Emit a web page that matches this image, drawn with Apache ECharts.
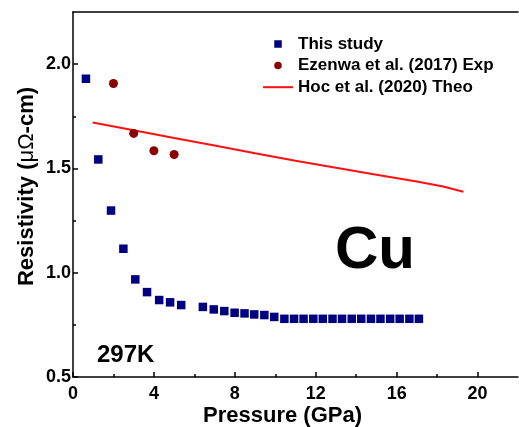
<!DOCTYPE html>
<html>
<head>
<meta charset="utf-8">
<script src="https://cdn.jsdelivr.net/npm/echarts@6/dist/echarts.min.js"></script>
<style>
  html, body { margin: 0; padding: 0; background: #fff; }
  #chart { width: 519px; height: 427px; }
</style>
</head>
<body>
<div id="chart"></div>
<script>
// Cu resistivity vs pressure at 297 K
const pressureThisStudy = [0.64, 1.25, 1.88, 2.49, 3.08, 3.66, 4.26, 4.80, 5.35,
  6.42, 6.96, 7.48, 7.99, 8.48, 8.96, 9.46, 9.95,
  10.45, 10.93, 11.40, 11.88, 12.35, 12.83, 13.30, 13.78, 14.25, 14.73, 15.20, 15.68, 16.15, 16.63, 17.10];
const resistThisStudy = [1.930, 1.543, 1.298, 1.115, 0.968, 0.907, 0.869, 0.858, 0.845,
  0.836, 0.824, 0.816, 0.808, 0.805, 0.800, 0.797, 0.788,
  0.779, 0.779, 0.779, 0.779, 0.779, 0.779, 0.779, 0.779, 0.779, 0.779, 0.779, 0.779, 0.779, 0.779, 0.779];

const pressureEzenwa = [2.0, 3.0, 4.0, 5.0];
const resistEzenwa = [1.907, 1.668, 1.585, 1.567];

const pressureHoc = [0.97, 3.0, 5.0, 7.0, 9.0, 11.0, 13.0, 15.0, 17.0, 18.3, 19.3];
const resistHoc = [1.720, 1.683, 1.646, 1.610, 1.573, 1.537, 1.503, 1.470, 1.437, 1.413, 1.388];

const seriesNames = ['This study', 'Ezenwa et al. (2017) Exp', 'Hoc et al. (2020) Theo'];

const xMajorTicks = [0, 4, 8, 12, 16, 20];
const xMinorTicks = [2, 6, 10, 14, 18];
const yMajorTicks = [0.5, 1.0, 1.5, 2.0];
const yMinorTicks = [0.75, 1.25, 1.75];

const zip = (xs, ys) => xs.map((x, i) => [x, ys[i]]);

const FONT = '"Liberation Sans", Arial, Helvetica, sans-serif';
const AX = { color: '#000', width: 1.5 };
const SQUARE = 'path://M0,0L1,0L1,1L0,1Z';

const chart = echarts.init(document.getElementById('chart'), null, { renderer: 'canvas' });

chart.setOption({
  animation: false,
  backgroundColor: '#fff',
  grid: { left: 73, top: 12, right: 1, bottom: 50, containLabel: false, outerBoundsMode: 'none' },
  legend: {
    orient: 'vertical',
    left: 257,
    top: 30.5,
    itemWidth: 30,
    itemHeight: 7.5,
    itemGap: 4.6,
    selectedMode: false,
    data: [
      { name: seriesNames[0], icon: SQUARE },
      { name: seriesNames[1], icon: 'circle' },
      { name: seriesNames[2], itemStyle: { opacity: 0 } }
    ],
    textStyle: { fontFamily: FONT, fontWeight: 'bold', fontSize: 17, lineHeight: 17, color: '#000' }
  },
  xAxis: [
    {
      type: 'value', position: 'bottom', min: 0, max: 22, interval: 4,
      name: 'Pressure (GPa)', nameLocation: 'middle', nameGap: 28, nameMoveOverlap: false,
      nameTextStyle: { fontFamily: FONT, fontWeight: 'bold', fontSize: 22, color: '#000', padding: [0, 26, 0, 0] },
      axisLine: { lineStyle: AX },
      axisTick: { inside: true, length: 5, lineStyle: AX, customValues: xMajorTicks },
      axisLabel: { customValues: xMajorTicks, margin: 8, fontFamily: FONT, fontWeight: 'bold', fontSize: 18, color: '#000' },
      splitLine: { show: false }
    },
    {
      type: 'value', position: 'bottom', min: 0, max: 22,
      axisLine: { show: false },
      axisTick: { inside: true, length: 3, lineStyle: AX, customValues: xMinorTicks },
      axisLabel: { show: false },
      splitLine: { show: false }
    },
    {
      type: 'value', position: 'top', min: 0, max: 22,
      axisLine: { lineStyle: AX },
      axisTick: { show: false },
      axisLabel: { show: false },
      splitLine: { show: false }
    }
  ],
  yAxis: [
    {
      type: 'value', position: 'left', min: 0.5, max: 2.25, interval: 0.5,
      name: 'Resistivity ({g|μΩ}-cm)', nameLocation: 'middle', nameGap: 35, nameMoveOverlap: false,
      nameTextStyle: {
        fontFamily: FONT, fontWeight: 'bold', fontSize: 22, color: '#000', padding: [0, 0, 0, 16],
        rich: { g: { fontFamily: FONT, fontWeight: 'normal', fontSize: 22, color: '#000' } }
      },
      axisLine: { lineStyle: AX },
      axisTick: { inside: true, length: 5, lineStyle: AX, customValues: yMajorTicks },
      axisLabel: {
        customValues: yMajorTicks, margin: 2,
        fontFamily: FONT, fontWeight: 'bold', fontSize: 18, color: '#000',
        formatter: v => v.toFixed(1)
      },
      splitLine: { show: false }
    },
    {
      type: 'value', position: 'left', min: 0.5, max: 2.25,
      axisLine: { show: false },
      axisTick: { inside: true, length: 3, lineStyle: AX, customValues: yMinorTicks },
      axisLabel: { show: false },
      splitLine: { show: false }
    }
  ],
  series: [
    {
      name: seriesNames[0], type: 'scatter', xAxisIndex: 0, yAxisIndex: 0,
      symbol: 'rect', symbolSize: 8.5,
      itemStyle: { color: '#000080', opacity: 1 },
      data: zip(pressureThisStudy, resistThisStudy),
      z: 3
    },
    {
      name: seriesNames[1], type: 'scatter', xAxisIndex: 0, yAxisIndex: 0,
      symbol: 'circle', symbolSize: 9,
      itemStyle: { color: '#8b0000', opacity: 1 },
      data: zip(pressureEzenwa, resistEzenwa),
      z: 3
    },
    {
      name: seriesNames[2], type: 'line', xAxisIndex: 0, yAxisIndex: 0,
      symbol: 'none', showSymbol: false,
      lineStyle: { color: '#ff1010', width: 2 },
      itemStyle: { color: '#ff1010' },
      data: zip(pressureHoc, resistHoc),
      z: 2
    }
  ],
  graphic: [
    {
      type: 'text', x: 335, y: 251,
      style: { text: 'Cu', font: 'bold 60px ' + FONT, fill: '#000', align: 'left', verticalAlign: 'middle' }
    },
    {
      type: 'text', x: 97, y: 355,
      style: { text: '297K', font: 'bold 24px ' + FONT, fill: '#000', align: 'left', verticalAlign: 'middle' }
    }
  ]
});
</script>
</body>
</html>
